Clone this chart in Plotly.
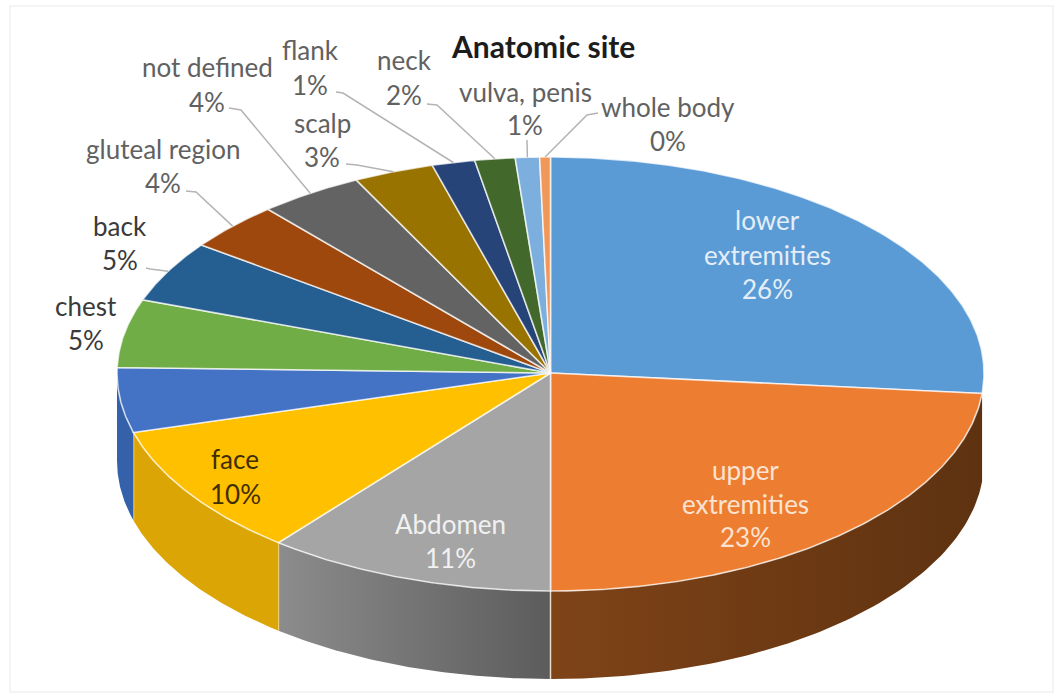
import numpy as np
import plotly.graph_objects as go

# ---- data ----
categories = ["lower extremities", "upper extremities", "Abdomen", "face", "unlabelled",
              "chest", "back", "gluteal region", "not defined", "scalp", "flank", "neck",
              "vulva, penis", "whole body"]
values = [26.5, 23.5, 10.8, 9.8, 4.8, 5.1, 4.6, 3.6, 3.9, 3.0, 1.6, 1.5, 0.9, 0.4]
shown_percent = ["26%", "23%", "11%", "10%", "", "5%", "5%", "4%", "4%", "3%", "1%", "2%", "1%", "0%"]
top_colors = ["#5B9BD5", "#ED7D31", "#A5A5A5", "#FFC000", "#4472C4", "#70AD47", "#255E91",
              "#9E480E", "#636363", "#997300", "#264478", "#43682B", "#7CAFDD", "#F1975A"]
wall_left = {1: "#7F4318", 2: "#8C8C8C", 3: "#DBA505", 4: "#3461AA"}
wall_right = {1: "#5E3210", 2: "#5C5C5C", 3: "#DBA505", 4: "#3461AA"}
title_text = "Anatomic site"

# ---- drawing geometry ----
CX, CY, RX, RY_TOP, RY_BOT, DEPTH = 550.5, 373.0, 433.5, 216.0, 218.0, 88.0
FONT = "Lato"
FS = 26


def ell(t):
    t = np.asarray(t, dtype=float)
    c = np.cos(t)
    return CX + RX * np.sin(t), CY - np.where(c >= 0, RY_TOP, RY_BOT) * c


cum = np.concatenate([[0], np.cumsum(values)]) / sum(values) * 2 * np.pi
fig = go.Figure()
no_hover = dict(mode="lines", hoverinfo="skip", showlegend=False)

# side walls
for i in wall_left:
    ts = np.linspace(cum[i], min(cum[i + 1], 1.5 * np.pi), 80)
    x, y = ell(ts)
    xp = np.concatenate([x, x[::-1]])
    yp = np.concatenate([y, (y + DEPTH)[::-1]])
    fig.add_trace(go.Scatter(
        x=xp, y=yp, fill="toself", line=dict(width=0), name=categories[i],
        fillgradient=dict(type="horizontal",
                          colorscale=[[0, wall_left[i]], [1, wall_right[i]]]),
        **no_hover))
    # seam at the slice edge
    if i in (2, 3):
        fig.add_trace(go.Scatter(x=[x[-1], x[-1]],
                                 y=[y[-1], y[-1] + DEPTH],
                                 line=dict(color="rgba(255,240,190,0.85)", width=1.5),
                                 **no_hover))
x0, y0 = ell(cum[2])
fig.add_trace(go.Scatter(x=[x0, x0], y=[y0, y0 + DEPTH],
                         line=dict(color="rgba(255,235,220,0.85)", width=1.5), **no_hover))

# top faces
for i, c in enumerate(top_colors):
    ts = np.linspace(cum[i], cum[i + 1], max(6, int(values[i] * 8)))
    x, y = ell(ts)
    fig.add_trace(go.Scatter(
        x=np.concatenate([[CX], x, [CX]]), y=np.concatenate([[CY], y, [CY]]),
        fill="toself", fillcolor=c, name=categories[i],
        line=dict(color="rgba(255,255,255,0.72)", width=1.6), **no_hover))

# leader lines: label-side start, elbow, then the slice's own rim point
leaders = {
    "back": [(146, 268), (150, 269)],
    "gluteal region": [(186, 191), (196, 192)],
    "not defined": [(229, 108), (241, 110)],
    "scalp": [(346, 164), (357, 165)],
    "flank": [(336, 92), (343, 93)],
    "neck": [(427, 104), (437, 105)],
    "vulva, penis": [(527, 140), (527, 142)],
    "whole body": [(598, 113), (587, 115)],
}
for i, name in enumerate(categories):
    if name in leaders:
        xm, ym = ell((cum[i] + cum[i + 1]) / 2)
        pts = leaders[name] + [(float(xm), float(ym))]
        fig.add_trace(go.Scatter(x=[p[0] for p in pts], y=[p[1] for p in pts],
                                 line=dict(color="#B4B4B4", width=1.5), **no_hover))

# label placement: category index -> (centre x, first line y, line gap, colour)
labels = {
    0: (767, 220, 34.5, "#E4EEF8", ["lower", "extremities"]),
    1: (745, 470, 33.5, "#FBE3D2", ["upper", "extremities"]),
    2: (450, 524, 34.0, "#F1F1F1", ["Abdomen"]),
    3: (235, 459, 35.0, "#3F2E00", ["face"]),
    5: (86, 306, 34.0, "#3A3A3A", ["chest"]),
    6: (120, 226, 34.0, "#3A3A3A", ["back"]),
    7: (163, 149, 34.0, "#616161", ["gluteal region"]),
    8: (207, 67, 35.0, "#616161", ["not defined"]),
    9: (322, 123, 34.0, "#616161", ["scalp"]),
    10: (310, 50, 35.0, "#616161", ["flank"]),
    11: (404, 60, 35.0, "#616161", ["neck"]),
    12: (525, 92, 33.0, "#616161", ["vulva, penis"]),
    13: (668, 107, 34.0, "#616161", ["whole body"]),
}
annotations = [dict(x=543, y=46, text=f"<b>{title_text}</b>", showarrow=False,
                    font=dict(family=FONT, size=30, color="#1c1c1c"),
                    xanchor="center", yanchor="middle")]
for i, (lx, ly, gap, col, lines) in labels.items():
    for k, t in enumerate(lines + [shown_percent[i]]):
        annotations.append(dict(x=lx, y=ly + k * gap, text=t, showarrow=False,
                                font=dict(family=FONT, size=FS, color=col),
                                xanchor="center", yanchor="middle"))

fig.update_layout(
    width=1063, height=698, margin=dict(l=0, r=0, t=0, b=0),
    paper_bgcolor="white", plot_bgcolor="white", showlegend=False,
    xaxis=dict(range=[0, 1063], visible=False, fixedrange=True),
    yaxis=dict(range=[698, 0], visible=False, fixedrange=True),
    annotations=annotations,
    shapes=[dict(type="rect", xref="x", yref="y", x0=10, y0=6, x1=1053, y1=692,
                 line=dict(color="#F1F1F1", width=1.5), layer="below")],
)
fig.write_html("out.html", config={"displayModeBar": False},
               post_script="document.body.style.margin='0';")
